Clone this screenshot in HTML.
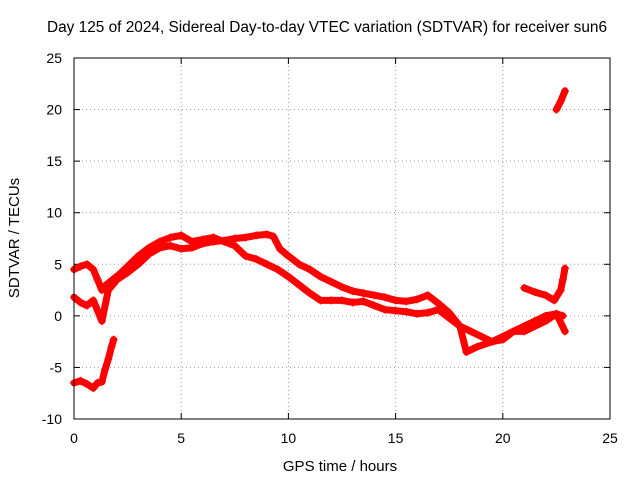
<!DOCTYPE html>
<html><head><meta charset="utf-8"><style>
body{margin:0;background:#fff}
svg{display:block;font-family:"Liberation Sans",sans-serif;font-size:14px}
</style></head><body>
<svg id="chart" width="640" height="480" viewBox="0 0 640 480">
<text x="327" y="32" text-anchor="middle" font-size="15.4">Day 125 of 2024, Sidereal Day-to-day VTEC variation (SDTVAR) for receiver sun6</text>
<g id="grid"></g>
<g id="ticks"></g>
<g id="marks"></g>
<rect x="74" y="58" width="536" height="361" fill="none" stroke="#000" stroke-width="1"/>
<text x="340" y="471" text-anchor="middle" font-size="15">GPS time / hours</text>
<text transform="translate(19,238) rotate(-90)" text-anchor="middle" font-size="15">SDTVAR / TECUs</text>
</svg>
<script>
const xTicks=[0,5,10,15,20,25];
const yTicks=[-10,-5,0,5,10,15,20,25];
const trackA_x=[0,0.3,0.6,0.9,1.1,1.3,1.5,1.8,2.1,2.5,3,3.5,4,4.5,5,5.5,6,6.5,7,7.5,8,8.5,9,9.5,10,10.5,11,11.5,12,12.5,13,13.5,14,14.5,15,15.5,16,16.5,17,17.5,18,18.5,19,19.5,20,20.5,21,21.5,22,22.5,22.8];
const trackA_y=[4.5,4.8,5,4.5,3.5,2.5,3,3.5,4,4.8,5.8,6.6,7.2,7.6,7.8,7.2,7.4,7.6,7.2,6.8,5.8,5.5,5,4.5,3.8,3,2.2,1.5,1.5,1.5,1.3,1.4,1,0.6,0.5,0.4,0.2,0.3,0.6,-0.2,-1,-1.5,-2,-2.5,-2.3,-1.5,-1,-0.5,0,0.2,0];
const trackB_x=[0,0.3,0.6,0.9,1.1,1.3,1.6,2,2.5,3,3.5,4,4.5,5,5.5,6,6.5,7,7.5,8,8.5,9,9.3,9.6,10,10.5,11,11.5,12,12.5,13,13.5,14,14.5,15,15.5,16,16.5,17,17.5,18,18.3,18.8,19.5,20,20.5,21,21.5,22,22.5,22.9];
const trackB_y=[1.8,1.3,1,1.5,0.5,-0.5,2.5,3.5,4.2,5,6,6.6,6.8,6.5,6.6,7,7.2,7.3,7.5,7.6,7.8,7.9,7.7,6.5,5.8,5,4.5,3.8,3.3,2.8,2.4,2.2,2,1.8,1.5,1.4,1.6,2,1.2,0.3,-1,-3.5,-3,-2.5,-2,-1.5,-1.5,-1,-0.5,0.2,-1.5];
const trackC_x=[0,0.3,0.6,0.9,1.1,1.3,1.45,1.6,1.75,1.85];
const trackC_y=[-6.5,-6.3,-6.6,-7,-6.5,-6.4,-5.2,-4.2,-3,-2.3];
const trackD_x=[22.5,22.7,22.9];
const trackD_y=[20,20.8,21.8];
const trackE_x=[21,21.5,22,22.4,22.7,22.8,22.9];
const trackE_y=[2.7,2.3,2,1.5,2.5,3.5,4.6];
const tracks=[[trackA_x,trackA_y],[trackB_x,trackB_y],[trackC_x,trackC_y],[trackD_x,trackD_y],[trackE_x,trackE_y]];
const X=v=>74+v*536/25, Y=v=>419-(v+10)*361/35;
const NS="http://www.w3.org/2000/svg";
const g=document.getElementById('grid'),t=document.getElementById('ticks'),m=document.getElementById('marks');
function mk(tag,a,p){const e=document.createElementNS(NS,tag);for(const k in a)e.setAttribute(k,a[k]);p.appendChild(e);return e;}
xTicks.forEach(v=>{
 if(v>0&&v<25){const l=mk('line',{x1:X(v),x2:X(v),y1:58,y2:419,stroke:'#999','stroke-dasharray':'1,3'},g);
 
 }
 const s=mk('text',{x:X(v),y:443,'text-anchor':'middle'},t);s.textContent=v;
 
 
 mk('line',{x1:X(v),x2:X(v),y1:419,y2:413,stroke:'#000'},t);mk('line',{x1:X(v),x2:X(v),y1:58,y2:64,stroke:'#000'},t);
});
yTicks.forEach(v=>{
 if(v>-10&&v<25){const l=mk('line',{x1:74,x2:610,y1:Y(v),y2:Y(v),stroke:'#999','stroke-dasharray':'1,3'},g);
 
 }
 const s=mk('text',{x:62,y:Y(v)+5,'text-anchor':'end'},t);s.textContent=v;
 
 
 mk('line',{x1:74,x2:80,y1:Y(v),y2:Y(v),stroke:'#000'},t);mk('line',{x1:610,x2:604,y1:Y(v),y2:Y(v),stroke:'#000'},t);
});
tracks.forEach((tr,i)=>{
 const [xs,ys]=tr;
 const pl=mk('polyline',{points:xs.map((x,j)=>X(x)+','+Y(ys[j])).join(' '),fill:'none',stroke:'#f00','stroke-width':7,'stroke-linejoin':'round','stroke-linecap':'round'},m);
 
 
 xs.forEach((x,j)=>{const px=X(x),py=Y(ys[j]);
  const p=mk('path',{d:`M${px-4},${py}h8M${px},${py-4}v8`,stroke:'#f00','stroke-width':1.2},m);
  
  });
});
</script>
</body></html>
